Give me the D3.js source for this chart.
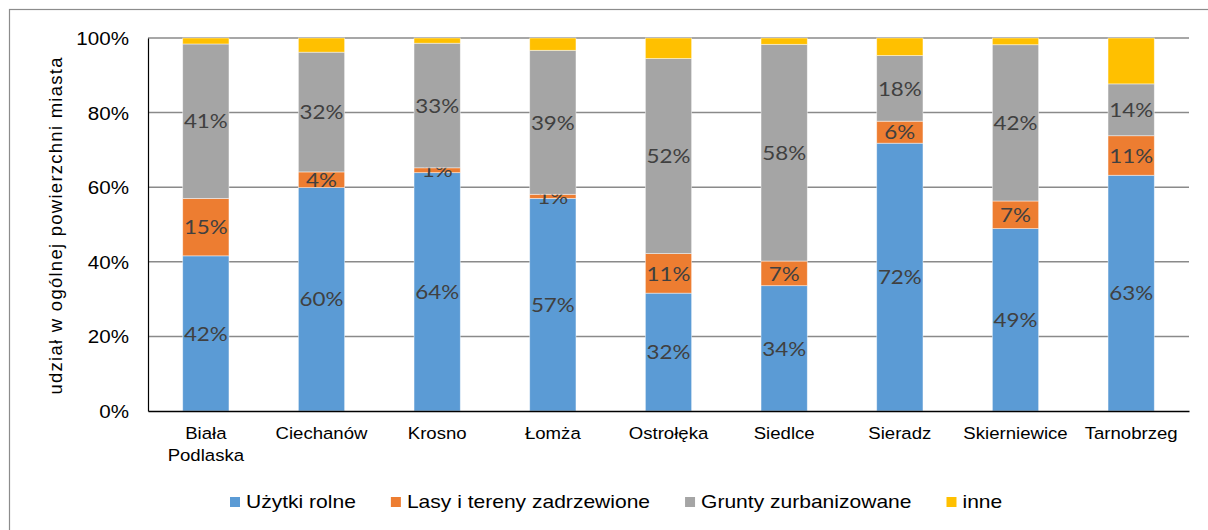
<!DOCTYPE html>
<html>
<head>
<meta charset="utf-8">
<script src="https://cdn.jsdelivr.net/npm/d3@7"></script>
<style>
  body { margin: 0; background: #fff; }
  svg { display: block; }
</style>
</head>
<body>
<svg id="chart" width="1208" height="530"></svg>
<script>
// udział form użytkowania w ogólnej powierzchni miasta (%)
var categories = ["Biała Podlaska", "Ciechanów", "Krosno", "Łomża", "Ostrołęka",
    "Siedlce", "Sieradz", "Skierniewice", "Tarnobrzeg"];
var series_names = ["Użytki rolne", "Lasy i tereny zadrzewione", "Grunty zurbanizowane", "inne"];
var uzytki_rolne = [41.6, 59.9, 63.9, 57.0, 31.6, 33.6, 71.8, 48.9, 63.2];
var lasy = [15.4, 4.2, 1.3, 1.1, 10.6, 6.6, 5.9, 7.4, 10.6];
var grunty = [41.4, 32.1, 33.4, 38.6, 52.3, 58.1, 17.6, 41.9, 13.9];
var inne = [1.6, 3.8, 1.4, 3.3, 5.5, 1.7, 4.7, 1.8, 12.3];
var y_ticks = [0, 20, 40, 60, 80, 100];
var labelled = [true, true, true, false]; // "inne" bez etykiet

var colors = ["#5B9BD5", "#ED7D31", "#A5A5A5", "#FFC000"];
var sx = 1.12; // tekst w oryginale jest lekko rozciągnięty w poziomie

var svg = d3.select("#chart");
var margin = { left: 148, right: 1189, top: 38, bottom: 411 };

// ramka wykresu
svg.append("rect").attr("x", 9.5).attr("y", 9.5).attr("width", 1220).attr("height", 540)
    .attr("fill", "none").attr("stroke", "#8c8c8c").attr("stroke-width", 1.2);

var rows = categories.map(function (c, i) {
    return { cat: c, 0: uzytki_rolne[i], 1: lasy[i], 2: grunty[i], 3: inne[i] };
});
var stacked = d3.stack().keys([0, 1, 2, 3])(rows);

var x = d3.scaleBand().domain(categories).range([margin.left, margin.right])
    .paddingInner(0.6).paddingOuter(0.3);
var y = d3.scaleLinear().domain([0, 100]).range([margin.bottom, margin.top]);

// linie siatki
svg.append("g").selectAll("line").data(y_ticks.filter(function (d) { return d > 0; }))
    .enter().append("line")
    .attr("x1", margin.left).attr("x2", margin.right)
    .attr("y1", function (d) { return y(d); }).attr("y2", function (d) { return y(d); })
    .attr("stroke", "#8a8a8a").attr("stroke-width", 1.5);

// słupki
var layers = svg.append("g").selectAll("g").data(stacked).enter().append("g")
    .attr("fill", function (d, i) { return colors[i]; });
layers.selectAll("rect").data(function (d) { return d; }).enter().append("rect")
    .attr("x", function (d) { return x(d.data.cat); })
    .attr("width", x.bandwidth())
    .attr("y", function (d) { return y(d[1]); })
    .attr("height", function (d) { return y(d[0]) - y(d[1]); })
    .attr("stroke", "#ffffff").attr("stroke-opacity", 0.55).attr("stroke-width", 0.8);

// etykiety danych
layers.filter(function (d, i) { return labelled[i]; })
    .selectAll("text").data(function (d) { return d; }).enter().append("text")
    .attr("transform", function (d) {
        return `translate(${x(d.data.cat) + x.bandwidth() / 2},${(y(d[0]) + y(d[1])) / 2}) scale(${sx},1)`;
    })
    .attr("text-anchor", "middle").attr("dy", "0.36em")
    .attr("font-family", "Lato, 'Open Sans', sans-serif").attr("font-size", 20)
    .attr("fill", "#404040")
    .text(function (d) { return Math.round(d[1] - d[0]) + "%"; });

// oś Y
var y_axis = svg.append("g").attr("transform", `translate(${margin.left},0)`)
    .call(d3.axisLeft(y).tickValues(y_ticks).tickFormat(function (d) { return d + "%"; }).tickSize(0));
y_axis.select(".domain").attr("stroke", "#000").attr("stroke-width", 1.2);
y_axis.selectAll("text").attr("x", null).attr("dy", "0.35em")
    .attr("transform", `translate(-19,0) scale(${sx},1)`)
    .attr("font-family", "'Liberation Sans', Arial, sans-serif").attr("font-size", 18.4)
    .attr("fill", "#000");

// oś X
var x_axis = svg.append("g").attr("transform", `translate(0,${margin.bottom})`)
    .call(d3.axisBottom(x).tickSize(0).tickFormat(""));
x_axis.select(".domain").attr("stroke", "#000").attr("stroke-width", 1.6);
x_axis.selectAll(".tick").each(function (d) {
    var words = d.split(" ");
    var t = d3.select(this).append("text")
        .attr("transform", `translate(0,28) scale(${sx},1)`)
        .attr("text-anchor", "middle")
        .attr("font-family", "'Liberation Sans', Arial, sans-serif").attr("font-size", 16.6)
        .attr("fill", "#000");
    words.forEach(function (w, i) {
        t.append("tspan").attr("x", 0).attr("dy", i ? 22.5 : 0).text(w);
    });
});

// tytuł osi Y
svg.append("text")
    .attr("transform", "translate(62,226) rotate(-90)")
    .attr("text-anchor", "middle")
    .attr("font-family", "'Liberation Sans', Arial, sans-serif").attr("font-size", 18.5)
    .attr("textLength", 337).attr("lengthAdjust", "spacing")
    .attr("fill", "#000")
    .text("udział w ogólnej powierzchni miasta");

// legenda
var legend = svg.append("g").attr("transform", "translate(230,497)");
var lx = 0;
series_names.forEach(function (name, i) {
    var g = legend.append("g").attr("transform", `translate(${lx},0)`);
    g.append("rect").attr("width", 10).attr("height", 10).attr("fill", colors[i]);
    var t = g.append("text")
        .attr("transform", `translate(16,11) scale(${sx},1)`)
        .attr("font-family", "'Liberation Sans', Arial, sans-serif").attr("font-size", 18.8)
        .attr("fill", "#000").text(name);
    lx += 16 + t.node().getComputedTextLength() * sx + 35;
});
</script>
</body>
</html>
